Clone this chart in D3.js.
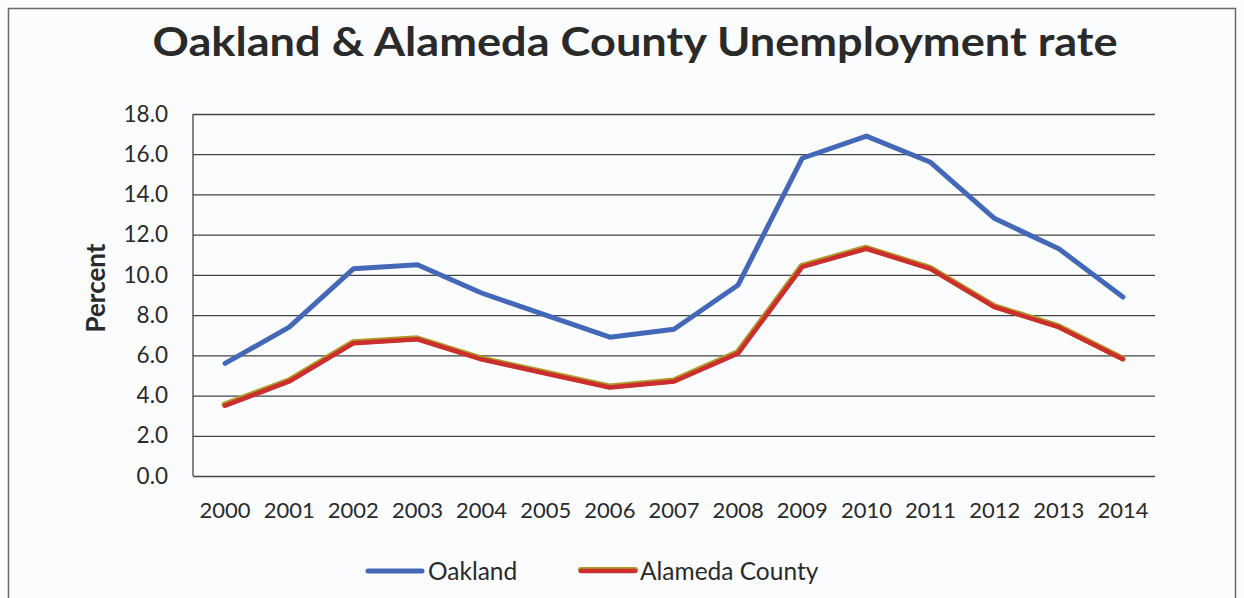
<!DOCTYPE html>
<html><head><meta charset="utf-8">
<script src="https://cdn.jsdelivr.net/npm/d3@7"></script>
<style>
html,body{margin:0;padding:0;background:#fbfcfe;}
svg{display:block;}
text{font-family:Lato,"Open Sans",sans-serif;fill:#2a2a2a;}
</style></head>
<body>
<svg id="chart" width="1244" height="598"></svg>
<script>
const years = ["2000","2001","2002","2003","2004","2005","2006","2007","2008","2009","2010","2011","2012","2013","2014"];
const oakland = [5.6,7.4,10.3,10.5,9.1,8.0,6.9,7.3,9.5,15.8,16.9,15.6,12.8,11.3,8.9];
const alameda = [3.5,4.7,6.6,6.8,5.8,5.1,4.4,4.7,6.1,10.4,11.3,10.3,8.4,7.4,5.8];
const yTicks = [0,2,4,6,8,10,12,14,16,18];
const seriesNames = ["Oakland","Alameda County"];
const title = "Oakland & Alameda County Unemployment rate";

const svg = d3.select("#chart");
svg.append("rect").attr("x",8.5).attr("y",8.5).attr("width",1227).attr("height",600)
  .attr("fill","#fbfcfe").attr("stroke","#6a6a6a").attr("stroke-width",1.5);

const L=193, R=1155, T=114, B=476;
const x = d3.scaleBand().domain(years).range([L,R]);
const y = d3.scaleLinear().domain([0,18]).range([B,T]);

svg.append("text").attr("x",635).attr("y",56).attr("text-anchor","middle")
  .style("font-size","41px").style("font-weight","bold").attr("textLength",965).attr("lengthAdjust","spacingAndGlyphs")
  .text(title);

// gridlines
const gy = svg.append("g").attr("transform",`translate(${L},0)`)
  .call(d3.axisLeft(y).tickValues(yTicks).tickSize(-(R-L)).tickFormat(d3.format(".1f")).tickPadding(25));
gy.select(".domain").remove();
gy.selectAll(".tick line").attr("stroke","#444").attr("stroke-width",1.3);
gy.selectAll(".tick text").style("font-size","22.5px").attr("fill","#2a2a2a").style("font-family","Lato,sans-serif");
svg.append("line").attr("x1",L).attr("x2",L).attr("y1",T).attr("y2",B).attr("stroke","#444").attr("stroke-width",1.3);

const gx = svg.append("g").attr("transform",`translate(0,${B})`)
  .call(d3.axisBottom(x).tickSize(0).tickPadding(26));
gx.select(".domain").remove();
gx.selectAll(".tick text").style("font-size","22px").attr("fill","#2a2a2a").style("font-family","Lato,sans-serif");

svg.append("text").attr("transform","translate(105,288) rotate(-90)").attr("text-anchor","middle")
  .style("font-size","26px").style("font-weight","bold").text("Percent");

const line = d3.line().x((d,i)=>x(years[i])+x.bandwidth()/2).y(d=>y(d));
svg.append("path").datum(oakland).attr("d",line).attr("fill","none").attr("stroke","#4468b8").attr("stroke-width",5).attr("stroke-linejoin","round").attr("stroke-linecap","round");
svg.append("path").datum(alameda).attr("d",line).attr("fill","none").attr("stroke","#b09a2a").attr("stroke-width",6).attr("stroke-linejoin","round").attr("stroke-linecap","round").attr("transform","translate(-0.5,-1)");
svg.append("path").datum(alameda).attr("d",line).attr("fill","none").attr("stroke","#cc2d2d").attr("stroke-width",4.5).attr("stroke-linejoin","round").attr("stroke-linecap","round");

// legend
const lg = svg.append("g");
lg.append("line").attr("x1",368).attr("x2",422).attr("y1",571).attr("y2",571).attr("stroke","#4468b8").attr("stroke-width",5).attr("stroke-linecap","round");
lg.append("text").attr("x",428).attr("y",580).style("font-size","24.5px").text(seriesNames[0]);
lg.append("line").attr("x1",581).attr("x2",635).attr("y1",570).attr("y2",570).attr("stroke","#b09a2a").attr("stroke-width",6).attr("stroke-linecap","round");
lg.append("line").attr("x1",581).attr("x2",635).attr("y1",571).attr("y2",571).attr("stroke","#cc2d2d").attr("stroke-width",4.5).attr("stroke-linecap","round");
lg.append("text").attr("x",640).attr("y",580).style("font-size","24.5px").text(seriesNames[1]);
</script>
</body></html>
